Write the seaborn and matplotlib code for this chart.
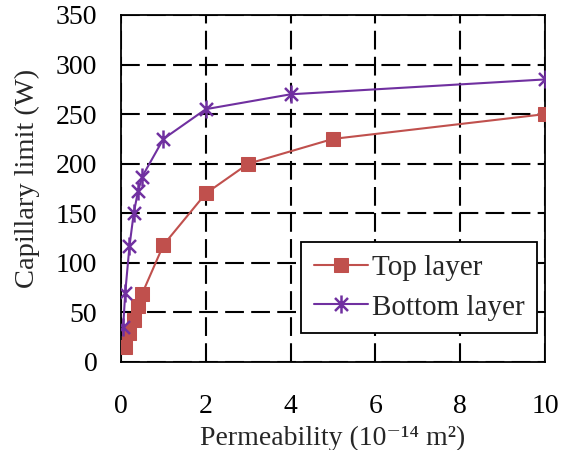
import matplotlib
matplotlib.use("Agg")
import matplotlib.pyplot as plt
import seaborn as sns
import pandas as pd
from matplotlib.path import Path

top_x = [0.1, 0.2, 0.3, 0.4, 0.5, 1, 2, 3, 5, 10]
top_y = [15, 29, 42, 56, 69, 118, 170, 200, 225, 250]
bot_x = [0.05, 0.1, 0.2, 0.3, 0.4, 0.5, 1, 2, 4, 10]
bot_y = [35, 70, 117, 150, 172, 187, 225, 255, 270, 285]
series_names = ["Top layer", "Bottom layer"]
x_ticks = [0, 2, 4, 6, 8, 10]
y_ticks = [0, 50, 100, 150, 200, 250, 300, 350]

sns.set_style("white")
plt.rcParams['font.family'] = ['Liberation Serif', 'DejaVu Serif']

fig = plt.figure(figsize=(5.61, 4.5), dpi=100)
ax = fig.add_axes([0.2157, 0.1956, 0.7558, 0.7711])

star = Path([(0, -1), (0, 1), (-0.72, -0.72), (0.72, 0.72), (-0.72, 0.72), (0.72, -0.72)],
            [Path.MOVETO, Path.LINETO, Path.MOVETO, Path.LINETO, Path.MOVETO, Path.LINETO])

red = "#C0504D"
purple = "#7030A0"

df_top = pd.DataFrame({"x": top_x, "y": top_y})
df_bot = pd.DataFrame({"x": bot_x, "y": bot_y})

sns.lineplot(data=df_top, x="x", y="y", ax=ax, color=red, lw=1.5, marker="s",
             markersize=10.5, markeredgecolor=red, markerfacecolor=red,
             label=series_names[0], errorbar=None, zorder=4)
sns.lineplot(data=df_bot, x="x", y="y", ax=ax, color=purple, lw=1.5, marker=star,
             markersize=13, markeredgecolor=purple, markeredgewidth=1.8,
             label=series_names[1], errorbar=None, zorder=4)

ax.set_xlim(0, 10)
ax.set_ylim(0, 350)
ax.set_xticks(x_ticks)
ax.set_yticks(y_ticks)
ax.grid(True, color="black", linestyle=(0, (9, 3.5)), linewidth=1.5, zorder=1)
for s in ax.spines.values():
    s.set_visible(True)
    s.set_color("black")
    s.set_linewidth(1.3)
ax.tick_params(axis="both", length=0, labelsize=20, colors="black")
ax.tick_params(axis="x", pad=23)
ax.tick_params(axis="y", pad=17)

ax.set_xlabel("Permeability (10\u207b\u00b9\u2074 m\u00b2)", fontsize=20, labelpad=5)
ax.set_ylabel("Capillary limit (W)", fontsize=20.5)
ax.yaxis.set_label_coords(-0.19, 0.53)

leg = ax.legend(loc="lower right", bbox_to_anchor=(0.981, 0.084), borderaxespad=0,
                fontsize=21, frameon=True, fancybox=False, shadow=False, borderpad=0.42,
                handlelength=1.85, labelspacing=0.45, handletextpad=0.15)
leg.get_frame().set_edgecolor("black")
leg.get_frame().set_linewidth(1.3)
leg.get_frame().set_facecolor("white")
leg.get_frame().set_alpha(1)
leg.set_zorder(5)

fig.savefig("out.png", dpi=100)
